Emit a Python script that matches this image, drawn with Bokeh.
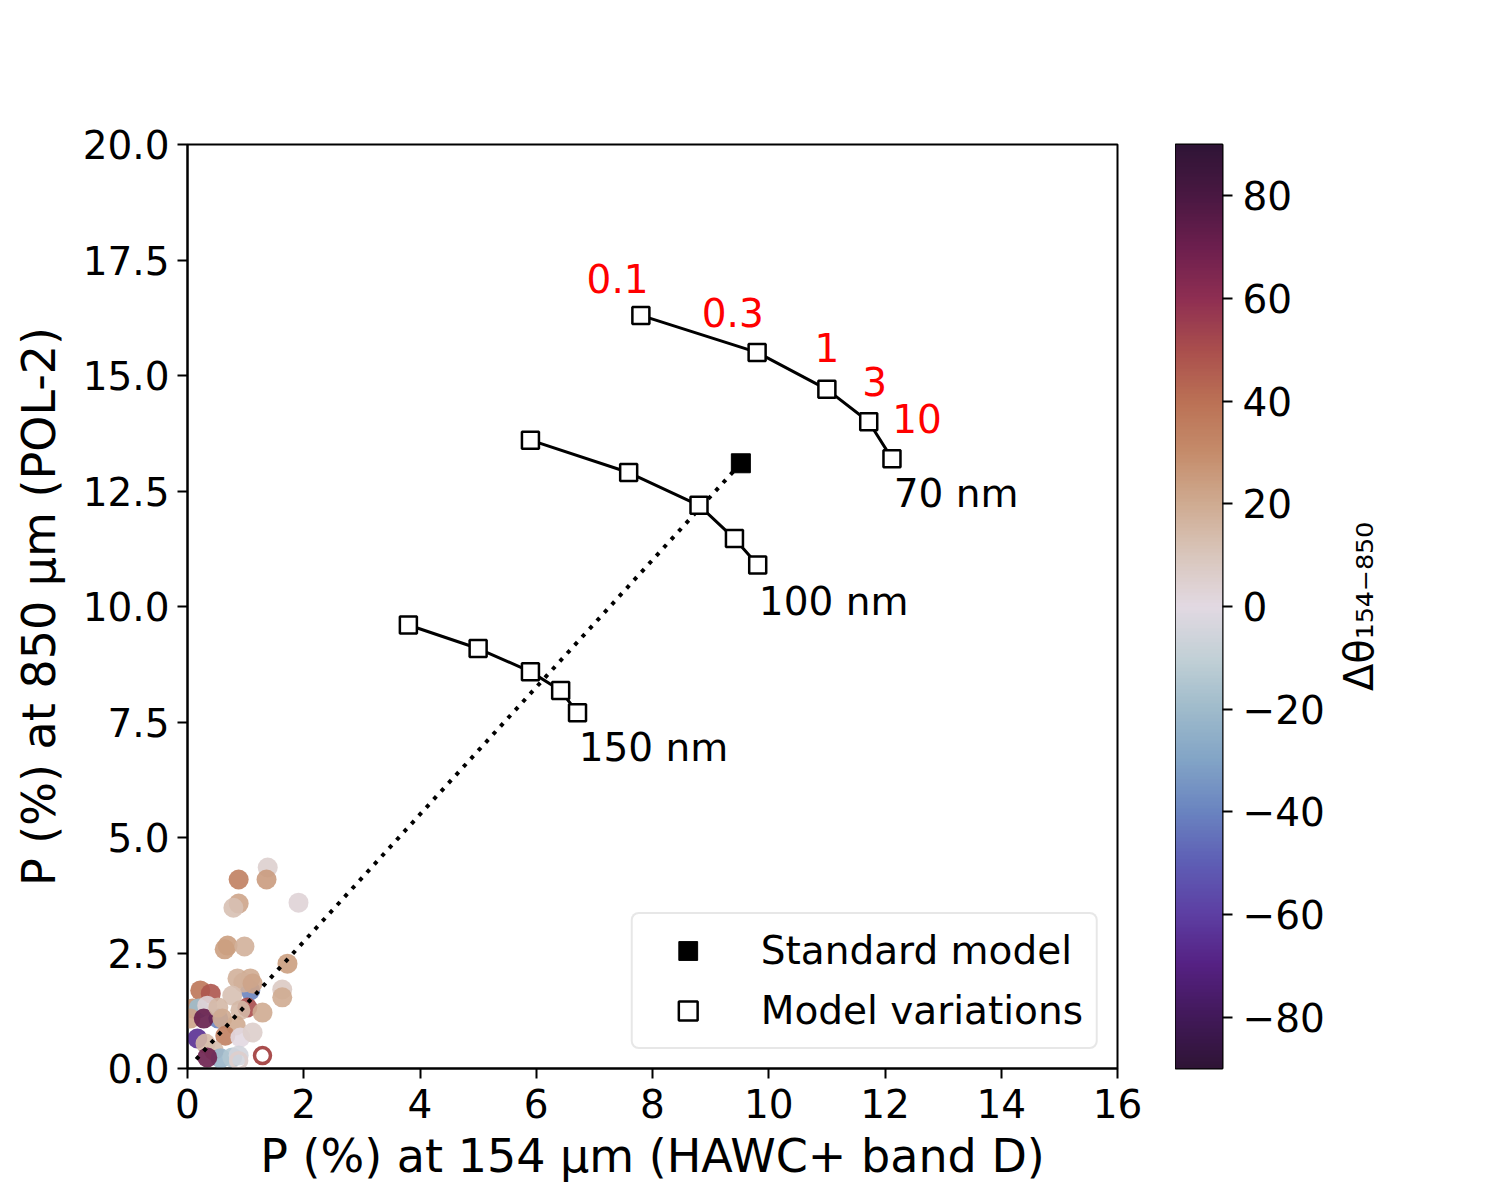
import numpy as np
from bokeh.plotting import figure
from bokeh.layouts import row
from bokeh.models import (LinearColorMapper, ColumnDataSource, FixedTicker, Legend)
from bokeh.core.properties import value
from bokeh.embed import file_html
from bokeh.resources import INLINE

FONT = "DejaVu Sans"

# ---------------- data ----------------
# observed points: P154 (%), P850 (%), delta theta (deg)
obs_x = [0.53, 1.08, 1.03, 1.38, 0.88, 1.36, 0.88, 0.79, 1.91, 0.69, 0.64, 0.98, 1.72,
         0.86, 1.08, 0.96, 1.12, 1.63, 1.63, 0.22, 0.40, 0.77, 0.09, 0.19, 0.34, 0.05,
         0.28, 0.53, 0.60, 0.91, 0.83, 1.29, 0.65, 0.91, 1.12, 0.17, 0.31, 0.45, 0.57,
         0.77, 0.34, 0.88]
obs_y = [1.08, 1.69, 1.32, 4.35, 4.09, 4.09, 3.57, 3.48, 3.59, 2.66, 2.58, 2.64, 2.27,
         1.95, 1.95, 1.86, 1.84, 1.71, 1.54, 1.69, 1.62, 1.58, 1.30, 1.30, 1.36, 1.08,
         1.08, 1.32, 1.08, 1.26, 0.93, 1.21, 0.71, 0.67, 0.78, 0.65, 0.54, 0.39, 0.22,
         0.24, 0.24, 0.28]
obs_dtheta = [-40, -40, 50, 5, 35, 25, 22, 12, 3, 24, 24, 18, 24,
              18, 20, 18, 22, 8, 20, 38, 48, 12, 28, -20, 3, 22,
              72, 15, 20, 15, 20, 20, 35, 0, 6, -65, 15, 14, -22,
              -15, 70, -5]

# open (hollow) observed points
open_x = [0.88, 1.29]
open_y = [0.17, 0.28]
open_dtheta = [5, 50]

# model variation tracks (grain size)
m70_x = [7.8, 9.8, 11.0, 11.72, 12.12]
m70_y = [16.3, 15.5, 14.7, 14.0, 13.2]
m100_x = [5.9, 7.59, 8.8, 9.41, 9.81]
m100_y = [13.6, 12.9, 12.19, 11.47, 10.9]
m150_x = [3.8, 5.0, 5.9, 6.42, 6.71]
m150_y = [9.6, 9.09, 8.59, 8.18, 7.7]

std_x = [9.52]
std_y = [13.1]

# dotted line from near origin to standard model
line_x = [0.15, 9.52]
line_y = [0.2, 13.1]

# parameter annotations
par_labels = ["0.1", "0.3", "1", "3", "10"]
par_x = [7.4, 9.38, 11.0, 11.82, 12.55]
par_y = [17.1, 16.36, 15.6, 14.87, 14.07]

size_labels = ["70 nm", "100 nm", "150 nm"]
size_x = [12.15, 9.83, 6.73]
size_y = [12.45, 10.1, 6.95]

x_ticks = [0, 2, 4, 6, 8, 10, 12, 14, 16]
y_ticks = [0.0, 2.5, 5.0, 7.5, 10.0, 12.5, 15.0, 17.5, 20.0]
cb_ticks = [-80, -60, -40, -20, 0, 20, 40, 60, 80]

# ---------------- palette (twilight_shifted approx) ----------------
anchor_v = [-90, -80, -70, -60, -50, -40, -30, -20, -10, 0, 10, 20, 30, 40, 50, 60, 70, 80, 90]
anchor_c = ["#2f1436", "#42195a", "#552183", "#5d3fa3", "#5e5eb5", "#6a84c0", "#82a4c6",
            "#9fbbcb", "#c2d0d6", "#e2d9e2", "#d9c6bc", "#cfab91", "#c58c6b", "#bb7155",
            "#aa4f4d", "#8f2f52", "#6d1f4e", "#4a1842", "#2f1436"]


def hex2rgb(h):
    return [int(h[i:i + 2], 16) for i in (1, 3, 5)]


rgb = np.array([hex2rgb(c) for c in anchor_c], dtype=float)
vv = np.linspace(-90, 90, 256)
palette = []
for v in vv:
    r = np.interp(v, anchor_v, rgb[:, 0])
    g = np.interp(v, anchor_v, rgb[:, 1])
    b = np.interp(v, anchor_v, rgb[:, 2])
    palette.append("#%02x%02x%02x" % (int(round(r)), int(round(g)), int(round(b))))

mapper = LinearColorMapper(palette=palette, low=-90, high=90)

# ---------------- main figure ----------------
p = figure(frame_width=930, frame_height=924, x_range=(0, 16), y_range=(0, 20),
           output_backend="svg", toolbar_location=None,
           min_border_left=187, min_border_top=144, min_border_bottom=120,
           min_border_right=58)
p.background_fill_color = "white"
p.border_fill_color = "white"
p.grid.visible = False
p.outline_line_color = "black"
p.outline_line_width = 2

for ax in (p.xaxis[0], p.yaxis[0]):
    ax.axis_line_width = 2
    ax.major_tick_line_width = 2
    ax.major_tick_out = 10
    ax.major_tick_in = 0
    ax.minor_tick_line_color = None
    ax.major_label_text_font = FONT
    ax.major_label_text_font_size = "39px"
    ax.major_label_text_color = "black"
    ax.axis_label_text_font = FONT
    ax.axis_label_text_font_size = "46px"
    ax.axis_label_text_font_style = "normal"
    ax.axis_label_text_color = "black"

p.xaxis.ticker = FixedTicker(ticks=x_ticks)
p.yaxis.ticker = FixedTicker(ticks=y_ticks)
p.yaxis.major_label_overrides = {t: "%.1f" % t for t in y_ticks}
p.xaxis.axis_label = "P (%) at 154 μm (HAWC+ band D)"
p.yaxis.axis_label = "P (%) at 850 μm (POL-2)"
p.xaxis.major_label_standoff = 10
p.yaxis.major_label_standoff = 8
p.xaxis.axis_label_standoff = 8
p.yaxis.axis_label_standoff = 14

obs_src = ColumnDataSource(dict(x=obs_x, y=obs_y, d=obs_dtheta))
p.scatter("x", "y", source=obs_src, size=20, marker="circle",
          fill_color={"field": "d", "transform": mapper}, line_color=None, fill_alpha=0.9)
open_src = ColumnDataSource(dict(x=open_x, y=open_y, d=open_dtheta))
p.scatter("x", "y", source=open_src, size=16, marker="circle", fill_color=None,
          line_color={"field": "d", "transform": mapper}, line_width=3.5)

p.line(line_x, line_y, line_color="black", line_width=4, line_dash="4 7")

for xs, ys in ((m70_x, m70_y), (m100_x, m100_y), (m150_x, m150_y)):
    p.line(xs, ys, line_color="black", line_width=3)

r_std = p.scatter(std_x, std_y, marker="square", size=19, fill_color="black",
                  line_color="black")
mod_x = m70_x + m100_x + m150_x
mod_y = m70_y + m100_y + m150_y
r_mod = p.scatter(mod_x, mod_y, marker="square", size=17, fill_color="white",
                  line_color="black", line_width=2.5)

p.text(par_x, par_y, text=par_labels, text_color="red", text_font=value(FONT),
       text_font_size="39px", text_align="center", text_baseline="middle")
p.text(size_x, size_y, text=size_labels, text_color="black", text_font=value(FONT),
       text_font_size="39px", text_align="left", text_baseline="middle")

legend = Legend(items=[("Standard model", [r_std]), ("Model variations", [r_mod])],
                location="bottom_right")
legend.label_text_font = FONT
legend.label_text_font_size = "39px"
legend.label_text_color = "black"
legend.padding = 13
legend.spacing = 13
legend.margin = 19
legend.glyph_width = 84
legend.glyph_height = 47
legend.label_height = 47
legend.label_standoff = 31
legend.border_line_color = "#d0d0d0"
legend.border_line_width = 2
legend.background_fill_alpha = 0.8
if "border_radius" in Legend.properties():
    legend.border_radius = 8
p.add_layout(legend)

# ---------------- colorbar figure ----------------
cb = figure(frame_width=47, frame_height=924, x_range=(0, 1), y_range=(-90, 90),
            output_backend="svg", toolbar_location=None,
            x_axis_location=None, y_axis_location="right",
            min_border_left=0, min_border_right=100, min_border_top=144,
            min_border_bottom=120)
cb.grid.visible = False
cb.outline_line_color = "black"
cb.outline_line_width = 2
grad = np.linspace(-90, 90, 256).reshape(256, 1)
cb.image(image=[grad], x=0, y=-90, dw=1, dh=180, color_mapper=mapper)
ay = cb.yaxis[0]
ay.ticker = FixedTicker(ticks=cb_ticks)
ay.major_label_overrides = {t: ("\u2212%d" % abs(t) if t < 0 else "%d" % t) for t in cb_ticks}
ay.axis_line_color = None
ay.major_tick_line_width = 2
ay.major_tick_out = 10
ay.major_tick_in = 0
ay.minor_tick_line_color = None
ay.major_label_text_font = FONT
ay.major_label_text_font_size = "39px"
ay.major_label_text_color = "black"
ay.major_label_standoff = 10

# ---------------- colorbar title (left axis label of a thin figure) ----------------
lab = figure(frame_width=1, frame_height=924, x_range=(0, 1), y_range=(-90, 90),
             output_backend="svg", toolbar_location=None,
             x_axis_location=None, y_axis_location="left",
             min_border_left=54, min_border_right=0, min_border_top=144,
             min_border_bottom=120)
lab.grid.visible = False
lab.outline_line_color = None
la = lab.yaxis[0]
la.ticker = FixedTicker(ticks=[])
la.axis_line_color = None
la.major_tick_line_color = None
la.minor_tick_line_color = None
la.major_label_text_font_size = "1px"
la.axis_label = "Δθ₁₅₄₋₈₅₀"
la.axis_label_text_font = FONT
la.axis_label_text_font_size = "40px"
la.axis_label_text_font_style = "normal"
la.axis_label_text_color = "black"
la.axis_label_standoff = 0

layout = row(p, cb, lab)
open("out.html", "w").write(file_html(layout, INLINE))
